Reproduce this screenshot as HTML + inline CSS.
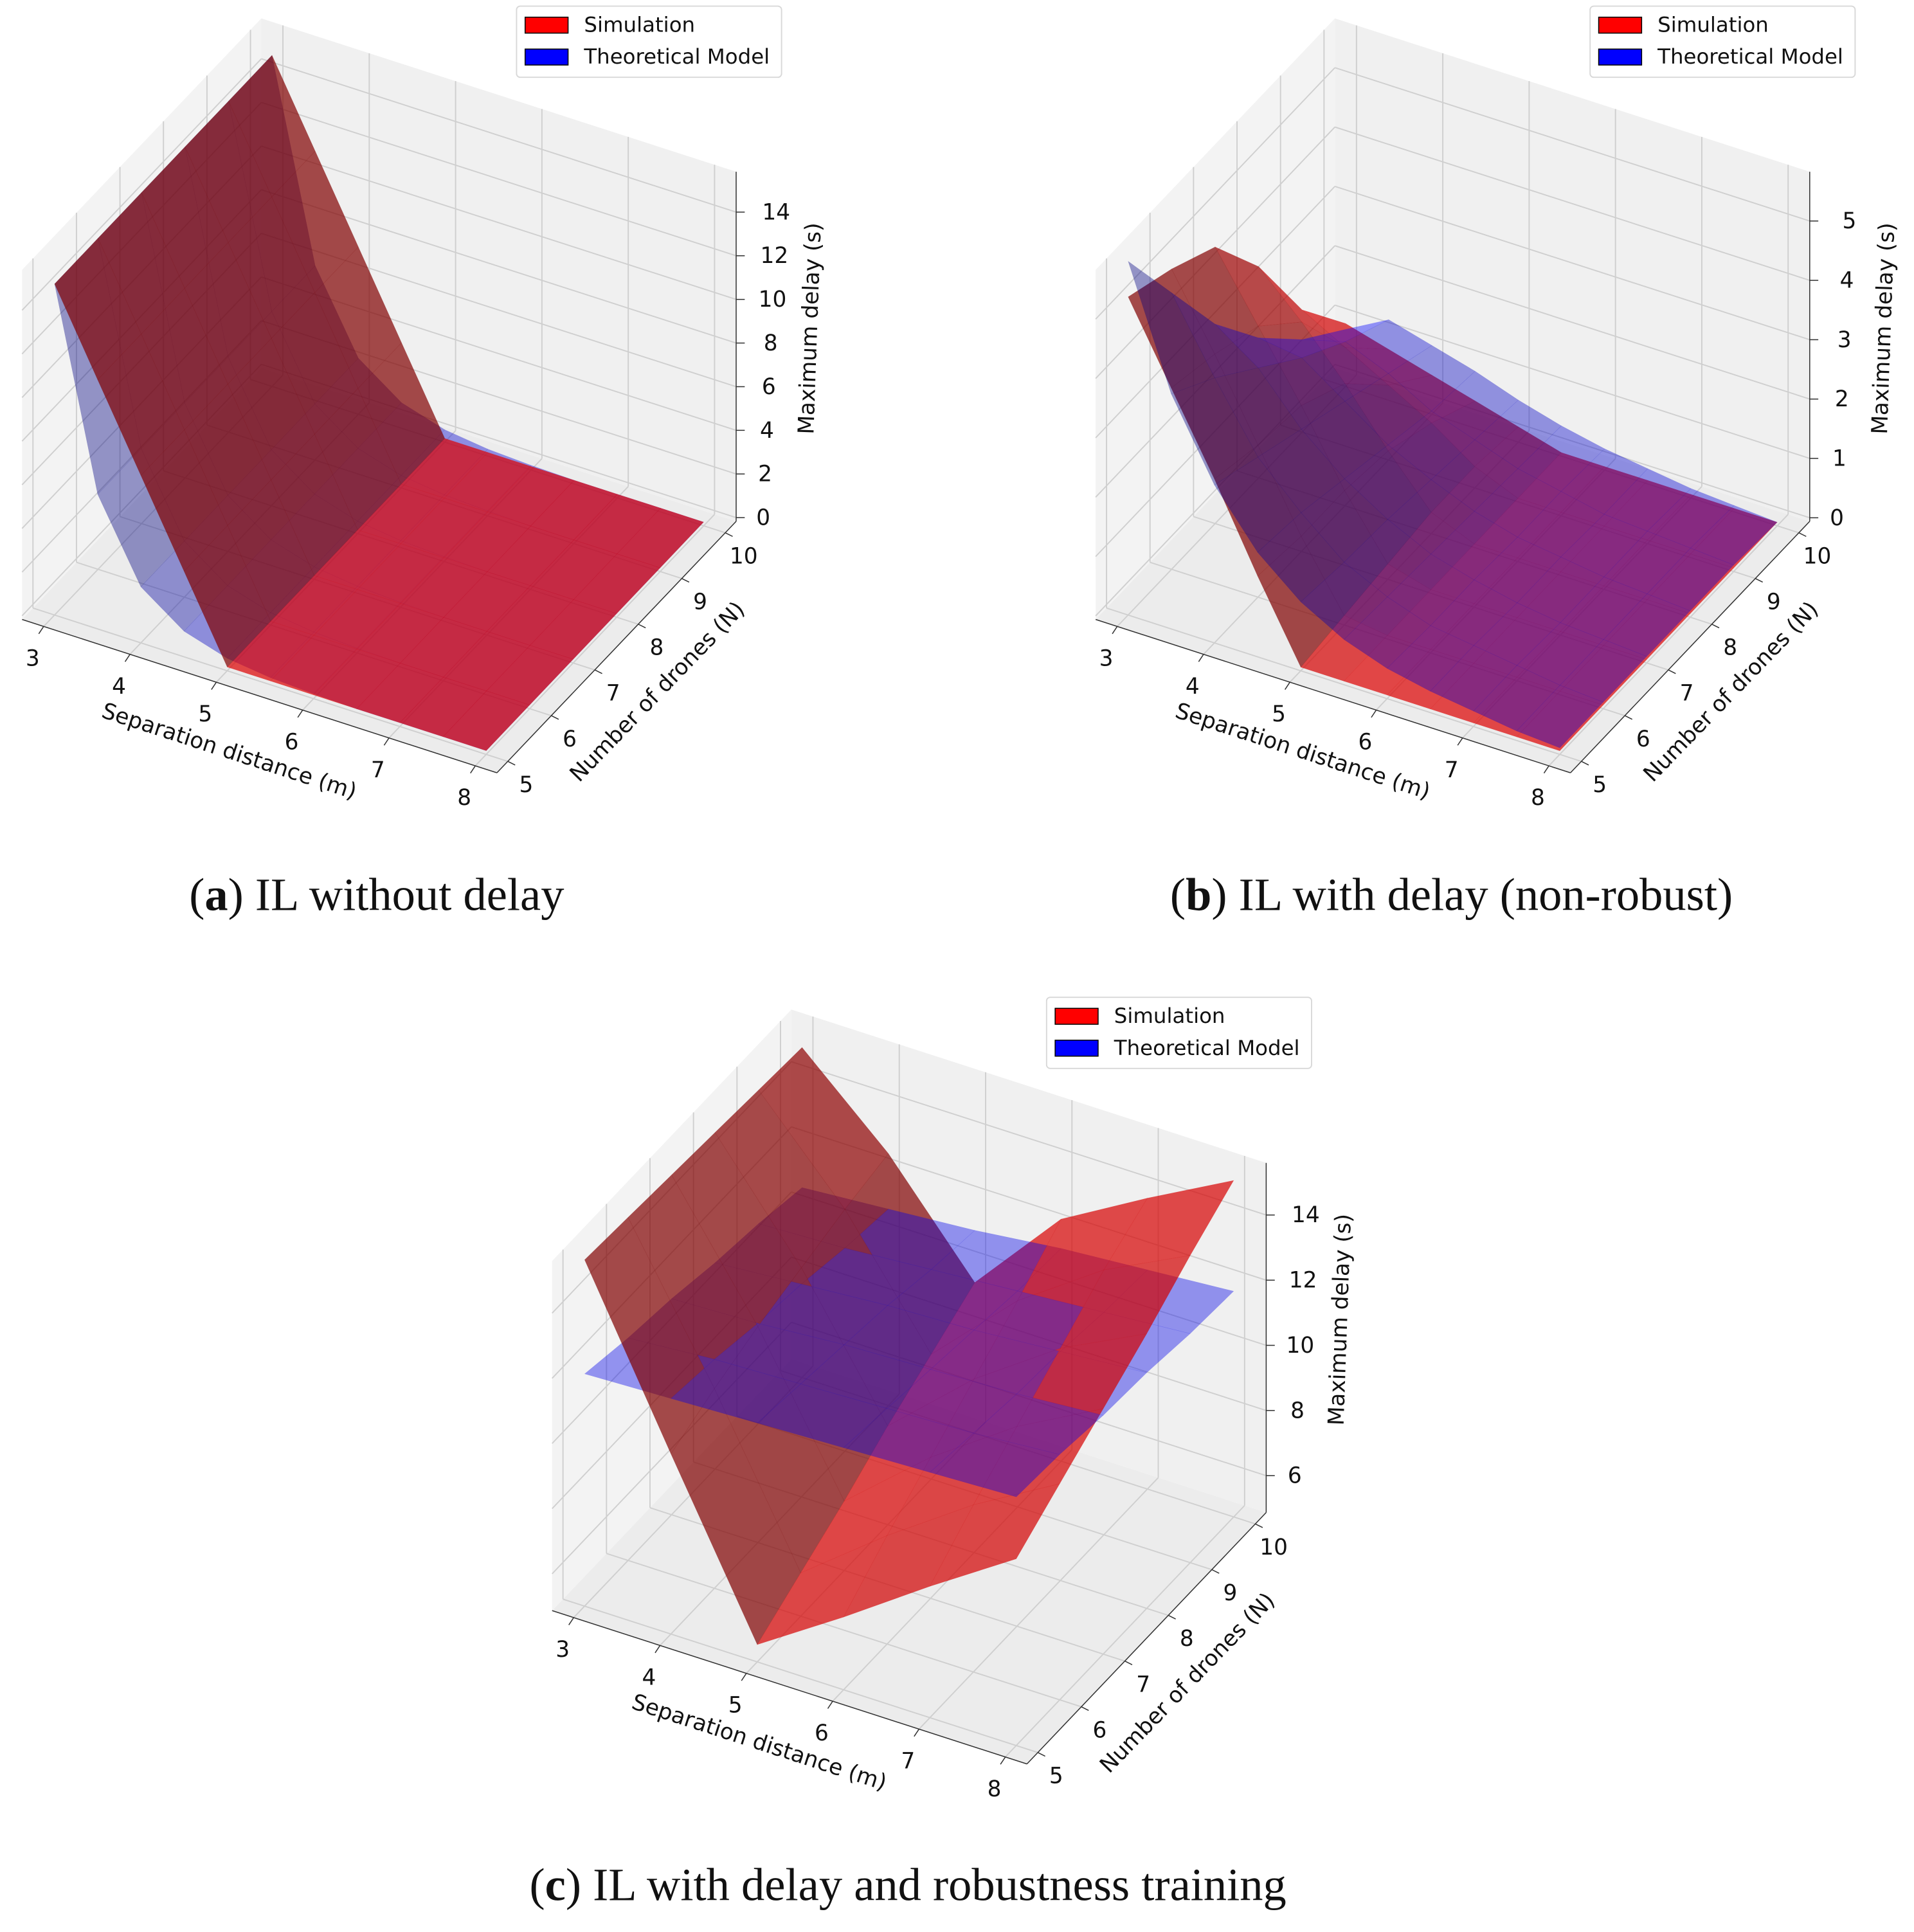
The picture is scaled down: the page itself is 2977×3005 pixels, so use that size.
<!DOCTYPE html>
<html><head><meta charset="utf-8"><style>
html,body{margin:0;padding:0;background:#fff;}
svg{display:block;}
text{font-family:"DejaVu Sans","Liberation Sans",sans-serif;fill:#111;}
.cap{font-family:"Liberation Serif",serif;}
</style></head><body>
<svg id="fig" width="2977" height="3005" viewBox="0 0 1560 1575" preserveAspectRatio="none" xmlns="http://www.w3.org/2000/svg">
<text class="cap" x="307" y="742" font-size="38" text-anchor="middle">(<tspan font-weight="bold">a</tspan>) IL without delay</text>
<text class="cap" x="1183" y="742" font-size="38" text-anchor="middle">(<tspan font-weight="bold">b</tspan>) IL with delay (non-robust)</text>
<text class="cap" x="740" y="1549" font-size="38" text-anchor="middle">(<tspan font-weight="bold">c</tspan>) IL with delay and robustness training</text>
</svg>
<script>
// ---- data ----
const xTicks=[3,4,5,6,7,8];
const yTicks=[5,6,7,8,9,10];
const zTicksA=[0,2,4,6,8,10,12,14];
const zTicksB=[0,1,2,3,4,5];
const zTicksC=[6,8,10,12,14];
const xsAB=[3,3.5,4,4.5,5,5.5,6,6.5,7,7.5,8];
const ysAll=[5,6,7,8,9,10];
const xsC=[3,4,5,6,7,8];
const simA=[[15,11.25,7.5,3.75,0,0,0,0,0,0,0],[15,11.25,7.5,3.75,0,0,0,0,0,0,0],[15,11.25,7.5,3.75,0,0,0,0,0,0,0],[15,11.25,7.5,3.75,0,0,0,0,0,0,0],[15,11.25,7.5,3.75,0,0,0,0,0,0,0],[15,11.25,7.5,3.75,0,0,0,0,0,0,0]];
const theoA=[[15,6,2.4,1,0.4,0.15,0.05,0,0,0,0],[15,6,2.4,1,0.4,0.15,0.05,0,0,0,0],[15,6,2.4,1,0.4,0.15,0.05,0,0,0,0],[15,6,2.4,1,0.4,0.15,0.05,0,0,0,0],[15,6,2.4,1,0.4,0.15,0.05,0,0,0,0],[15,6,2.4,1,0.4,0.15,0.05,0,0,0,0]];
const simB=[[5.3,4.0,2.7,1.3,0,0,0,0,0,0,0],[5.0,3.8,2.5,1.2,0.1,0,0,0,0,0,0],[4.6,3.5,2.4,1.2,0.2,0,0,0,0,0,0],[3.5,2.8,2.0,1.1,0.3,0,0,0,0,0,0],[2.0,1.6,1.2,0.8,0.3,0,0,0,0,0,0],[1.0,0.8,0.6,0.4,0.2,0,0,0,0,0,0]];
const theoB=[[5.9,3.9,2.6,1.7,1.1,0.7,0.45,0.3,0.2,0.1,0.05],[4.6,3.4,2.3,1.6,1.0,0.65,0.4,0.3,0.2,0.1,0.05],[3.3,2.8,2.0,1.4,0.95,0.6,0.4,0.25,0.15,0.1,0.05],[2.3,2.2,1.7,1.2,0.85,0.55,0.35,0.25,0.15,0.1,0.05],[1.5,1.7,1.4,1.0,0.75,0.5,0.35,0.2,0.15,0.1,0.05],[0.9,1.3,1.1,0.9,0.65,0.45,0.3,0.2,0.1,0.05,0]];
const simC=[[15.5,10.4,5.4,7.1,8.9,10.6],[15.4,11.0,6.2,8.2,10.0,11.5],[15.3,11.5,7.0,9.2,11.0,12.4],[15.2,11.9,7.9,10.2,12.0,13.3],[15.1,12.3,8.7,11.2,13.0,14.3],[15.0,12.6,9.5,12.3,13.8,15.2]];
const theoC=[[12.0,12.1,12.2,12.3,12.4,12.5],[11.7,11.9,12.0,12.1,12.2,12.4],[11.5,11.6,11.8,11.9,12.0,12.2],[11.2,11.4,11.6,11.7,11.9,12.1],[11.0,11.1,11.3,11.5,11.7,11.9],[10.7,10.9,11.1,11.4,11.6,11.8]];

const NS='http://www.w3.org/2000/svg';
const svg=document.getElementById('fig');
function mk(tag,attrs,parent){const e=document.createElementNS(NS,tag);for(const k in attrs)e.setAttribute(k,attrs[k]);(parent||svg).appendChild(e);return e;}
const EX=[387,125],EY=[195,-205],EZ=[0,-285];

function panel(id,ox,oy,zlim,zTicks,xs,ys,sim,theo,order){
  const g=mk('g',{});
  
  
  const xl=[2.75,8.25],yl=[4.75,10.25];
  const fX=x=>(x-xl[0])/(xl[1]-xl[0]),fY=y=>(y-yl[0])/(yl[1]-yl[0]),fZ=z=>(z-zlim[0])/(zlim[1]-zlim[0]);
  const Pf=(a,b,c)=>[ox+a*EX[0]+b*EY[0]+c*EZ[0],oy+a*EX[1]+b*EY[1]+c*EZ[1]];
  const P=(x,y,z)=>Pf(fX(x),fY(y),fZ(z));
  const poly=pts=>pts.map(p=>p[0].toFixed(1)+','+p[1].toFixed(1)).join(' ');
  const floor=mk('polygon',{points:poly([Pf(0,0,0),Pf(1,0,0),Pf(1,1,0),Pf(0,1,0)]),fill:'#ececec'},g);
  
  const wl=mk('polygon',{points:poly([Pf(0,0,0),Pf(0,1,0),Pf(0,1,1),Pf(0,0,1)]),fill:'#f3f3f3'},g);
  
  const wr=mk('polygon',{points:poly([Pf(0,1,0),Pf(1,1,0),Pf(1,1,1),Pf(0,1,1)]),fill:'#f0f0f0'},g);
  
  const gl=(a,b)=>{const l=mk('line',{x1:a[0],y1:a[1],x2:b[0],y2:b[1],stroke:'#cfcfcf','stroke-width':1},g);};
  xTicks.forEach(t=>{const a=fX(t);gl(Pf(a,0,0),Pf(a,1,0));gl(Pf(a,1,0),Pf(a,1,1));});
  yTicks.forEach(t=>{const b=fY(t);gl(Pf(0,b,0),Pf(1,b,0));gl(Pf(0,b,0),Pf(0,b,1));});
  zTicks.forEach(t=>{const c=fZ(t);gl(Pf(0,0,c),Pf(0,1,c));gl(Pf(0,1,c),Pf(1,1,c));});
  const ax=(a,b,n)=>{const l=mk('line',{x1:a[0],y1:a[1],x2:b[0],y2:b[1],stroke:'#333','stroke-width':0.8},g);};
  ax(Pf(0,0,0),Pf(1,0,0),'x-axis-line');ax(Pf(1,0,0),Pf(1,1,0),'y-axis-line');ax(Pf(1,1,0),Pf(1,1,1),'z-axis-line');
  const build=(zs,xv,yv,rgb,alpha,grp)=>{
    const out=[];
    for(let j=0;j<yv.length-1;j++)for(let i=0;i<xv.length-1;i++){
      const c=[[xv[i],yv[j],zs[j][i]],[xv[i+1],yv[j],zs[j][i+1]],[xv[i+1],yv[j+1],zs[j+1][i+1]],[xv[i],yv[j+1],zs[j+1][i]]];
      const n=c.map(p=>[fX(p[0]),fY(p[1]),fZ(p[2])]);
      const u=[n[2][0]-n[0][0],n[2][1]-n[0][1],n[2][2]-n[0][2]],v=[n[3][0]-n[1][0],n[3][1]-n[1][1],n[3][2]-n[1][2]];
      let nx=u[1]*v[2]-u[2]*v[1],ny=u[2]*v[0]-u[0]*v[2],nz=u[0]*v[1]-u[1]*v[0];
      const L=Math.hypot(nx,ny,nz)||1;nx/=L;ny/=L;nz/=L;if(nz<0){nx=-nx;ny=-ny;nz=-nz;}
      const d=-0.5*nx+0.5*ny+0.707*nz;
      const k=Math.max(0.5,Math.min(1,0.55+0.45*d));
      const cx=n.reduce((s,p)=>s+p[0],0)/4,cy=n.reduce((s,p)=>s+p[1],0)/4,cz=n.reduce((s,p)=>s+p[2],0)/4;
      const col='rgb('+Math.round(rgb[0]*k)+','+Math.round(rgb[1]*k)+','+Math.round(rgb[2]*k)+')';
      out.push({grp,far:-0.43*cx+0.75*cy-0.5*cz,pts:c.map(p=>P(p[0],p[1],p[2])),col,alpha,name:rgb[0]>rgb[2]?'simulation-surface-cell':'theory-surface-cell'});
    }
    return out;};
  const tq=build(theo,xs,ys,[0,0,255],0.4,0);
  const sq=build(sim,xs,ys,[255,0,0],0.7,1);
  let quads;
  const srt=a=>a.sort((p,q)=>q.far-p.far);
  if(order==='theoFirst')quads=srt(tq).concat(srt(sq));
  else if(order==='simFirst')quads=srt(sq).concat(srt(tq));
  else quads=srt(tq.concat(sq));
  quads.forEach(q=>{const p=mk('polygon',{points:poly(q.pts),fill:q.col,'fill-opacity':q.alpha,stroke:q.col,'stroke-opacity':q.alpha*0.3,'stroke-width':0.3},g);});
  xTicks.forEach(t=>{const p=P(t,yl[0],zlim[0]);mk('line',{x1:p[0],y1:p[1],x2:p[0]-4,y2:p[1]+6,stroke:'#333','stroke-width':0.8},g);
    const tx=mk('text',{x:p[0]-9,y:p[1]+32,'font-size':18,'text-anchor':'middle'},g);tx.textContent=t;});
  yTicks.forEach(t=>{const p=P(xl[1],t,zlim[0]);mk('line',{x1:p[0],y1:p[1],x2:p[0]+6,y2:p[1]+3,stroke:'#333','stroke-width':0.8},g);
    const tx=mk('text',{x:p[0]+15,y:p[1]+25,'font-size':18,'text-anchor':'middle'},g);tx.textContent=t;});
  zTicks.forEach(t=>{const p=P(xl[1],yl[1],t);const c=fZ(t);mk('line',{x1:p[0],y1:p[1],x2:p[0]+7,y2:p[1],stroke:'#333','stroke-width':0.8},g);
    const tx=mk('text',{x:p[0]+22+c*12,y:p[1]+6,'font-size':18,'text-anchor':'middle'},g);tx.textContent=t;});
  const lab=(s,x,y,r,n)=>{const t=mk('text',{x:0,y:0,'font-size':18,'text-anchor':'middle',transform:'translate('+x+','+y+') rotate('+r+')'},g);t.textContent=s;};
  lab('Separation distance (m)',ox+167,oy+113,18,'x-axis-title');
  lab('Number of drones (N)',ox+522,oy+63,-46,'y-axis-title');
  lab('Maximum delay (s)',ox+648,oy-237,-88,'z-axis-title');
  const lx=ox+403,ly=oy-500;
  const lg=mk('g',{},g);
  mk('rect',{x:lx,y:ly,width:216,height:58,rx:3,fill:'#fff',stroke:'#d8d8d8','stroke-width':1},lg);
  const ent=(yy,col,s,n)=>{const r=mk('rect',{x:lx+7,y:yy,width:35,height:13,fill:col,stroke:'#000','stroke-width':0.8},lg);
    const t=mk('text',{x:lx+55,y:yy+12,'font-size':17},lg);t.textContent=s;};
  ent(ly+9,'#ff0000','Simulation','legend-simulation');
  ent(ly+35,'#0000ff','Theoretical Model','legend-theoretical');
}
panel('a',18,505,[-0.17,15.85],zTicksA,xsAB,ysAll,simA,theoA,'theoFirst');
panel('b',893,505,[-0.06,5.83],zTicksB,xsAB,ysAll,simB,theoB,'simFirst');
panel('c',450,1313,[4.87,15.6],zTicksC,xsC,ysAll,simC,theoC,'sort');
</script>
</body></html>
